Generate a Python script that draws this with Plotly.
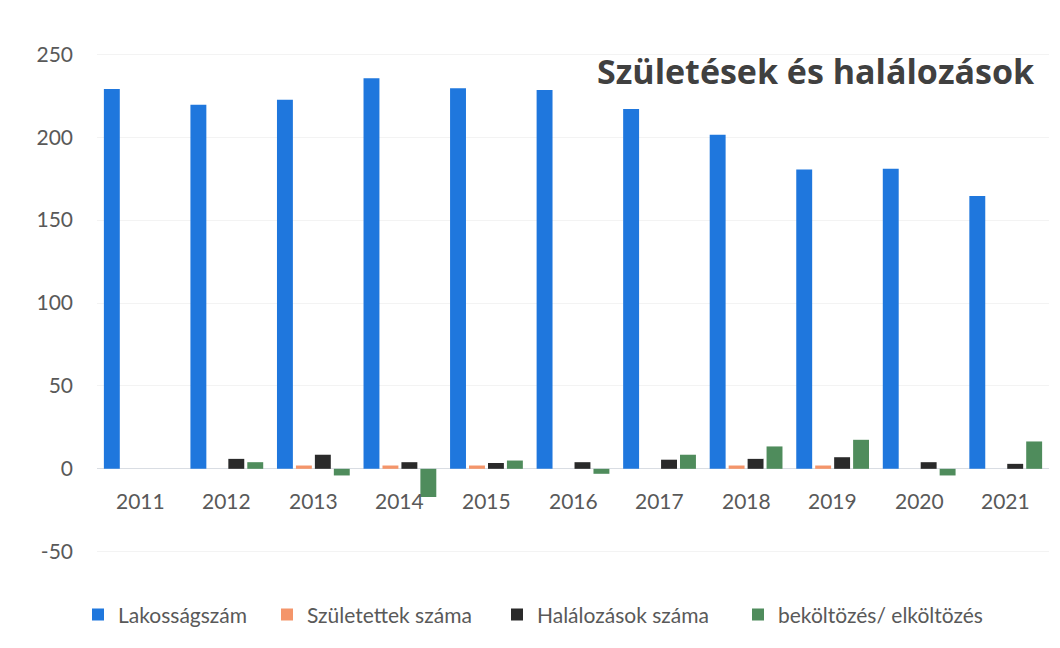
import plotly.graph_objects as go

years = ["2011", "2012", "2013", "2014", "2015", "2016", "2017", "2018", "2019", "2020", "2021"]
lakossag = [229, 219.5, 222.5, 235.5, 229.5, 228.5, 217, 201.5, 180.5, 181, 164.5]
szuletettek = [0, 0, 2, 2, 2, 0, 0, 2, 2, 0, 0]
halalozasok = [0, 6, 8.5, 4, 3.5, 4, 5.5, 6, 7, 4, 3]
koltozes = [0, 4, -4, -17, 5, -3, 8.5, 13.5, 17.5, -4, 16.5]
y_ticks = [-50, 0, 50, 100, 150, 200, 250]
y_tick_text = ["-50", "0", "50", "100", "150", "200", "250"]

series = [
    ("Lakosságszám", lakossag, "#1f77dd"),
    ("Születettek száma", szuletettek, "#f4956a"),
    ("Halálozások száma", halalozasok, "#2a2a2a"),
    ("beköltözés/ elköltözés", koltozes, "#4f8c5c"),
]
legend_ids = ["legend", "legend2", "legend3", "legend4"]
legend_x = [78, 267, 497, 738]  # pixel left positions

FONT = "Lato, Open Sans, sans-serif"

fig = go.Figure()
for (name, vals, color), lid in zip(series, legend_ids):
    fig.add_trace(go.Bar(x=years, y=vals, name=name, legend=lid,
                         marker=dict(color=color, line=dict(width=0))))

for i, yr in enumerate(years):
    fig.add_annotation(x=i, y=0, xref="x", yref="y", text=yr, showarrow=False,
                       yanchor="top", yshift=-17, font=dict(size=21, color="#595959"))

fig.add_annotation(x=1.0, y=1.0, xref="paper", yref="paper", xanchor="right", yanchor="top",
                   text="<b>Születések és halálozások</b>", showarrow=False,
                   xshift=-12, yshift=-5,
                   font=dict(size=34, color="#404040", family="Open Sans, sans-serif"))

ml, mr, mt, mb = 97, 11, 41, 83
pw = 1060 - ml - mr
leg_common = dict(orientation="h", xanchor="left", y=-0.095, yanchor="middle",
                  font=dict(size=21, color="#595959", family=FONT), itemwidth=30,
                  bgcolor="rgba(0,0,0,0)")
layout_legends = {}
for lid, px in zip(legend_ids, legend_x):
    layout_legends[lid] = dict(leg_common, x=(px - ml) / pw)

fig.update_layout(
    width=1060, height=648,
    paper_bgcolor="white", plot_bgcolor="white",
    font=dict(family=FONT, color="#595959", size=21),
    margin=dict(l=ml, r=mr, t=mt, b=mb),
    barmode="group", bargap=0.124, bargroupgap=0.16,
    showlegend=True,
    xaxis=dict(type="category", range=[-0.5, len(years) - 0.5], showticklabels=False,
               showline=False, showgrid=False, zeroline=False, ticks=""),
    yaxis=dict(range=[-58, 258], tickvals=y_ticks, ticktext=y_tick_text, showgrid=True,
               gridcolor="#f3f3f3", zeroline=True, zerolinecolor="#d9dde3", zerolinewidth=1,
               tickfont=dict(size=21, color="#595959"), ticks="", ticklabelstandoff=23),
)
fig.update_layout(**layout_legends)

fig.write_html("out.html", config={"displayModeBar": False},
               post_script="document.body.style.margin='0px';")
